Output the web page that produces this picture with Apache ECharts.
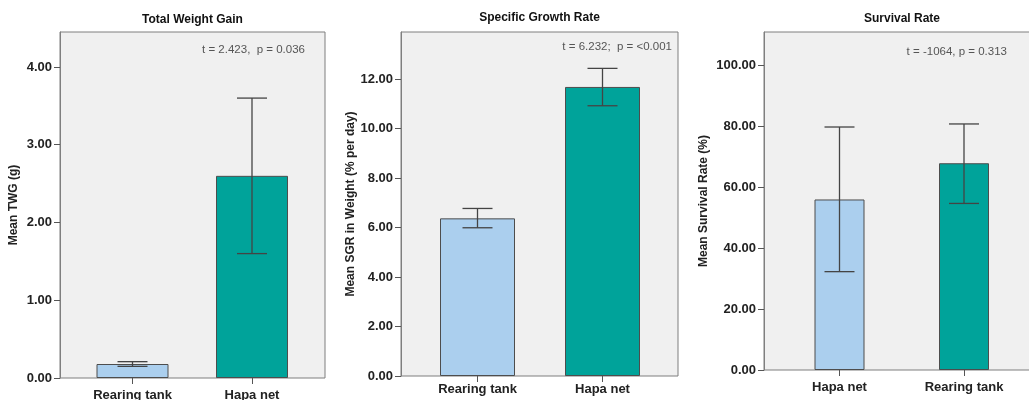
<!DOCTYPE html>
<html>
<head>
<meta charset="utf-8">
<script src="https://cdn.jsdelivr.net/npm/echarts@6/dist/echarts.min.js"></script>
<style>
html,body{margin:0;padding:0;background:#fff;}
#chart{width:1029px;height:400px;}
</style>
</head>
<body>
<div id="chart"></div>
<script>
// ---- Data ----
const twgCategories = ['Rearing tank', 'Hapa net'];
const twgMeans = [0.18, 2.60];
const twgLow = [0.15, 1.60];
const twgHigh = [0.21, 3.60];
const twgTicks = [0, 1, 2, 3, 4];

const sgrCategories = ['Rearing tank', 'Hapa net'];
const sgrMeans = [6.37, 11.68];
const sgrLow = [5.99, 10.92];
const sgrHigh = [6.77, 12.43];
const sgrTicks = [0, 2, 4, 6, 8, 10, 12];

const srCategories = ['Hapa net', 'Rearing tank'];
const srMeans = [56.0, 67.9];
const srLow = [32.3, 54.7];
const srHigh = [79.8, 80.8];
const srTicks = [0, 20, 40, 60, 80, 100];

const titles = ['Total Weight Gain', 'Specific Growth Rate', 'Survival Rate'];
const yNames = ['Mean TWG (g)', 'Mean SGR in Weight (% per day)', 'Mean Survival Rate (%)'];
const notes = ['t = 2.423,  p = 0.036', 't = 6.232;  p = <0.001', 't = -1064, p = 0.313'];

// ---- Styles / layout ----
const FONT = 'Liberation Sans, Arial, sans-serif';
const barColors = ['#abcfee', '#00a39a'];
const panels = [
  { frame: {left: 60, top: 32, width: 265, height: 346}, inner: {left: 72.75, width: 239},
    max: 4.45, ticks: twgTicks, cats: twgCategories, means: twgMeans, low: twgLow, high: twgHigh,
    barWidth: 72, nameGap: 40, xMargin: 11, titleX: 192.5, titleTop: 14, note: {right: 724, top: 44} },
  { frame: {left: 401, top: 32, width: 277, height: 344}, inner: {left: 415, width: 250},
    max: 13.9, ticks: sgrTicks, cats: sgrCategories, means: sgrMeans, low: sgrLow, high: sgrHigh,
    barWidth: 75, nameGap: 39, xMargin: 7, titleX: 539.5, titleTop: 12, note: {right: 357, top: 41} },
  { frame: {left: 764, top: 32, width: 276, height: 338}, inner: {left: 777.25, width: 249},
    max: 111, ticks: srTicks, cats: srCategories, means: srMeans, low: srLow, high: srHigh,
    barWidth: 50, nameGap: 54, xMargin: 11, titleX: 902, titleTop: 13, note: {right: 22, top: 46} }
];

const grid = [], xAxis = [], yAxis = [], series = [], title = [];
panels.forEach((p, i) => {
  const gA = i * 2, gB = i * 2 + 1;
  grid.push({ left: p.frame.left, top: p.frame.top, width: p.frame.width, height: p.frame.height,
    show: true, backgroundColor: '#f0f0f0', borderColor: '#7f7f7f', borderWidth: 1,
    containLabel: false, outerBoundsMode: 'none' });
  grid.push({ left: p.inner.left, top: p.frame.top, width: p.inner.width, height: p.frame.height,
    show: false, containLabel: false, outerBoundsMode: 'none' });
  // frame axes
  xAxis.push({ gridIndex: gA, type: 'value', min: 0, max: 1, show: false });
  yAxis.push({ gridIndex: gA, type: 'value', min: 0, max: p.max,
    name: yNames[i], nameLocation: 'middle', nameGap: p.nameGap, nameRotate: 90,
    nameTextStyle: { fontFamily: FONT, fontSize: 12, fontWeight: 'bold', color: '#222' },
    axisLine: { show: true, lineStyle: { color: '#7f7f7f', width: 1 } },
    axisTick: { show: true, length: 6, lineStyle: { color: '#555' }, customValues: p.ticks },
    axisLabel: { show: true, margin: 8, fontFamily: FONT, fontSize: 13, fontWeight: 'bold', color: '#222',
      customValues: p.ticks, formatter: v => Number(v).toFixed(2) },
    splitLine: { show: false } });
  // data axes
  xAxis.push({ gridIndex: gB, type: 'category', data: p.cats, boundaryGap: true,
    axisLine: { show: false },
    axisTick: { show: true, alignWithLabel: true, length: 6, lineStyle: { color: '#555' } },
    axisLabel: { margin: p.xMargin, fontFamily: FONT, fontSize: 13, fontWeight: 'bold', color: '#222' } });
  yAxis.push({ gridIndex: gB, type: 'value', min: 0, max: p.max, show: false, splitLine: { show: false } });

  series.push({ type: 'bar', xAxisIndex: gB, yAxisIndex: gB, barWidth: p.barWidth,
    data: p.means.map((v, k) => ({ value: v, itemStyle: { color: barColors[k] } })),
    itemStyle: { borderColor: '#4d4d4d', borderWidth: 1 }, silent: true, z: 2 });
  series.push({ type: 'custom', xAxisIndex: gB, yAxisIndex: gB, z: 3, silent: true,
    encode: { x: 0, y: [1, 2] },
    data: p.cats.map((c, k) => [k, p.low[k], p.high[k]]),
    renderItem: (params, api) => {
      const x = api.value(0);
      const lo = api.coord([x, api.value(1)]);
      const hi = api.coord([x, api.value(2)]);
      const hw = 15;
      const st = { stroke: '#444', lineWidth: 1.3 };
      return { type: 'group', children: [
        { type: 'line', shape: { x1: lo[0], y1: lo[1], x2: hi[0], y2: hi[1] }, style: st },
        { type: 'line', shape: { x1: hi[0] - hw, y1: hi[1], x2: hi[0] + hw, y2: hi[1] }, style: st },
        { type: 'line', shape: { x1: lo[0] - hw, y1: lo[1], x2: lo[0] + hw, y2: lo[1] }, style: st }
      ] };
    } });

  title.push({ text: titles[i], left: p.titleX, top: p.titleTop, textAlign: 'center', padding: 0,
    textStyle: { fontFamily: FONT, fontSize: 12, fontWeight: 'bold', color: '#111' } });
  title.push({ text: notes[i], right: p.note.right, top: p.note.top, padding: 0,
    textStyle: { fontFamily: FONT, fontSize: 11.5, fontWeight: 'normal', color: '#555' } });
});

const chart = echarts.init(document.getElementById('chart'), null, { renderer: 'canvas' });
chart.setOption({ animation: false, backgroundColor: '#fff', title, grid, xAxis, yAxis, series });
</script>
</body>
</html>
